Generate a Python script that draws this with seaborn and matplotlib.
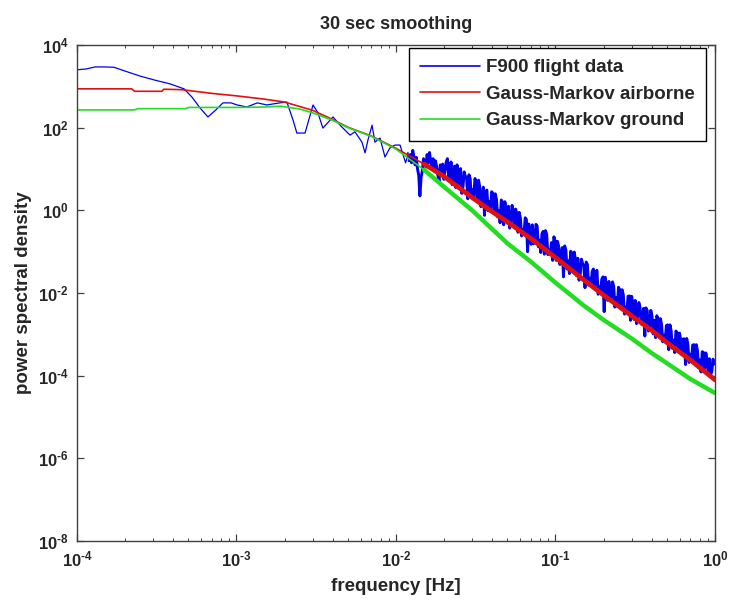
import numpy as np
import pandas as pd
import matplotlib
matplotlib.use("Agg")
import matplotlib.pyplot as plt
import seaborn as sns
from matplotlib.ticker import LogLocator, FixedLocator, NullLocator, FuncFormatter

# ---------------------------------------------------------------------------
# Data (power spectral density given as log10 values)
# ---------------------------------------------------------------------------

# Gauss-Markov model, airborne parameters
airborne_freq = [1e-4, 2.2e-4, 2.3e-4, 3.4e-4, 3.5e-4, 4.5e-4, 5e-4, 7e-4, 1e-3,
                 1.5e-3, 2e-3, 3e-3, 4e-3, 5e-3, 7e-3, 1e-2, 1.5e-2, 2e-2, 3e-2,
                 4e-2, 5e-2, 7e-2, 0.1, 0.15, 0.2, 0.3, 0.4, 0.5, 0.7, 1.0]
airborne_log = [2.94, 2.94, 2.88, 2.88, 2.93, 2.92, 2.90, 2.83, 2.77,
                2.69, 2.62, 2.42, 2.20, 2.01, 1.80, 1.50, 1.12, 0.82, 0.31,
                -0.03, -0.28, -0.68, -1.14, -1.68, -2.05, -2.55, -2.90, -3.20, -3.62, -4.10]

# Gauss-Markov model, ground parameters
ground_freq = [1e-4, 2.3e-4, 2.4e-4, 4.8e-4, 5e-4, 1e-3, 1.5e-3, 1.9e-3, 2.5e-3,
               3e-3, 4e-3, 5e-3, 7e-3, 1e-2, 1.5e-2, 2e-2, 3e-2, 4e-2, 5e-2,
               7e-2, 0.1, 0.15, 0.2, 0.3, 0.4, 0.5, 0.7, 1.0]
ground_log = [2.43, 2.43, 2.46, 2.46, 2.49, 2.49, 2.50, 2.52, 2.45,
              2.36, 2.18, 2.00, 1.79, 1.48, 0.98, 0.57, 0.00, -0.45, -0.80,
              -1.24, -1.75, -2.30, -2.65, -3.10, -3.45, -3.70, -4.08, -4.42]

# F900 flight data, low-frequency part
flight_freq_low = [1.00e-4, 1.14e-4, 1.30e-4, 1.50e-4, 1.71e-4, 2.00e-4, 2.48e-4,
                   3.08e-4, 3.83e-4, 4.69e-4, 5.26e-4, 5.90e-4, 6.62e-4, 7.43e-4,
                   8.22e-4, 9.23e-4, 1.01e-3, 1.16e-3, 1.35e-3, 1.55e-3, 1.87e-3,
                   2.07e-3, 2.26e-3, 2.39e-3, 2.69e-3, 3.02e-3, 3.24e-3, 3.48e-3,
                   4.03e-3, 4.46e-3, 5.15e-3, 5.53e-3, 6.12e-3, 6.40e-3, 6.67e-3,
                   7.08e-3, 7.38e-3, 7.94e-3, 8.53e-3, 9.16e-3, 9.86e-3, 1.06e-2]
flight_log_low = [3.40, 3.42, 3.47, 3.47, 3.46, 3.37, 3.25,
                  3.15, 3.06, 2.94, 2.74, 2.48, 2.26, 2.43,
                  2.60, 2.60, 2.55, 2.50, 2.60, 2.55, 2.60,
                  2.62, 2.19, 1.87, 1.87, 2.55, 2.36, 1.99,
                  2.26, 2.06, 1.82, 1.90, 1.65, 1.39, 1.70,
                  2.06, 1.65, 1.75, 1.29, 1.51, 1.58, 1.58]

# F900 flight data, high-frequency part (log-spaced bins 10^-1.94 .. 10^-0.005 Hz)
flight_log_high = [
    1.15, 1.25, 1.40, 1.20, 1.35, 1.15, 1.45, 1.30, 1.10, 1.28,
    1.00, 0.85, 0.35, 0.80, 0.95, 1.25, 1.15, 1.05, 1.35, 1.15,
    1.40, 1.20, 1.00, 1.25, 0.95, 1.20, 1.05, 0.85, 0.70, 1.10,
    0.95, 1.12, 0.75, 0.98,
    1.17, 1.25, 0.78, 0.71, 1.17, 0.62, 0.76, 1.07, 0.55, 1.10,
    0.91, 0.56, 1.01, 0.41, 0.57, 0.93, 0.81, 0.80, 0.28, 0.86,
    0.77, 0.32, 0.50, 0.32, 0.77, 0.68, 0.23, 0.73, 0.57, 0.09,
    0.27, 0.56, -0.12, 0.46, 0.49, -0.01, 0.21, 0.02, 0.45, 0.41,
    -0.05, 0.40, 0.26, -0.16, 0.00, -0.30, 0.25, 0.20, -0.35, 0.21,
    0.04, -0.31, 0.10, -0.43, -0.30, 0.12, -0.02, -0.42, 0.03, -0.07,
    -0.53, -0.05, -0.19, -0.62, -0.47, -0.56, -0.18, -0.22, -1.00, -0.33,
    -0.53, -0.82, -0.35, -0.81, -0.76, -0.34, -0.38, -0.88, -0.72, -1.02,
    -0.57, -0.51, -1.06, -0.49, -0.59, -1.07, -0.96, -1.07, -0.78, -1.21,
    -0.64, -0.74, -1.21, -0.75, -0.87, -1.31, -1.13, -0.90, -1.61, -0.86,
    -0.96, -1.42, -1.22, -1.53, -0.99, -1.03, -1.47, -1.01, -1.19, -1.58,
    -1.16, -1.69, -1.54, -1.18, -1.29, -1.33, -1.87, -1.25, -1.31, -1.81,
    -1.64, -1.81, -1.48, -1.42, -1.87, -1.50, -1.45, -2.03, -1.85, -2.01,
    -1.67, -1.61, -2.45, -1.62, -1.90, -2.18, -1.72, -2.17, -2.13, -1.73,
    -1.84, -2.34, -2.11, -2.32, -1.86, -1.92, -2.38, -1.92, -2.04, -2.51,
    -2.34, -2.46, -2.08, -2.07, -2.66, -2.08, -2.26, -2.64, -2.18, -2.74,
    -2.59, -2.23, -2.35, -2.75, -2.59, -2.37, -3.04, -2.36, -2.42, -2.92,
    -2.82, -2.42, -2.55, -2.99, -2.66, -3.08, -2.55, -2.62, -3.05, -2.62,
    -2.76, -3.18, -3.02, -3.17, -2.79, -2.77, -3.37, -2.77, -2.91, -3.34,
    -3.14, -3.44, -2.92, -2.96, -3.37, -2.97, -3.13, -3.49, -3.11, -3.11,
    -3.73, -3.10, -3.24, -3.68, -3.48, -3.64, -3.26, -3.25, -3.69, -3.25,
    -3.39, -3.81, -3.62, -3.91, -3.42, -3.44, -3.82, -3.45, -3.61, -3.97,
    -3.59, -3.98, -3.90, -3.60, -3.72,
]
flight_freq_high = np.logspace(-1.94, -0.005, len(flight_log_high))

flight = pd.DataFrame({
    "freq": np.concatenate([flight_freq_low, flight_freq_high]),
    "psd": 10.0 ** np.array(flight_log_low + flight_log_high),
})
airborne = pd.DataFrame({"freq": airborne_freq, "psd": 10.0 ** np.array(airborne_log)})
ground = pd.DataFrame({"freq": ground_freq, "psd": 10.0 ** np.array(ground_log)})

x_tick_exps = [-4, -3, -2, -1, 0]
y_tick_exps = [-8, -6, -4, -2, 0, 2, 4]

# ---------------------------------------------------------------------------
# Style
# ---------------------------------------------------------------------------
sns.set_theme(style="ticks")
plt.rcParams.update({
    "font.family": ["Liberation Sans", "DejaVu Sans"],
    "font.weight": "bold",
    "mathtext.fontset": "custom",
    "mathtext.rm": "Liberation Sans:bold",
    "mathtext.it": "Liberation Sans:bold",
    "mathtext.bf": "Liberation Sans:bold",
    "mathtext.default": "regular",
    "axes.unicode_minus": False,
    "xtick.direction": "in",
    "ytick.direction": "in",
    "xtick.top": True,
    "ytick.right": True,
    "axes.edgecolor": "#404040",
    "axes.linewidth": 1.0,
})

BLUE = "#0000ee"
RED = "#e01010"
GREEN = "#22dd22"

fig = plt.figure(figsize=(7.29, 6.01), dpi=100)
ax = fig.add_axes([0.1056, 0.0998, 0.8752, 0.8253])

# Flight data, then the two model curves drawn over it
sns.lineplot(data=flight, x="freq", y="psd", color=BLUE, lw=0.9, sort=False,
             estimator=None, label="F900 flight data", ax=ax)
# dense part of the flight spectrum renders as a solid band
sns.lineplot(data=flight[flight.freq >= 0.012], x="freq", y="psd", color=BLUE,
             lw=2.1, sort=False, estimator=None, legend=False, ax=ax)
sns.lineplot(data=airborne, x="freq", y="psd", color=RED, lw=1.2, sort=False,
             estimator=None, label="Gauss-Markov airborne", ax=ax)
sns.lineplot(data=ground, x="freq", y="psd", color=GREEN, lw=1.2, sort=False,
             estimator=None, label="Gauss-Markov ground", ax=ax)
# model estimates get broader where the spectrum is dense
sns.lineplot(data=airborne[airborne.freq >= 0.015], x="freq", y="psd", color=RED,
             lw=3.4, sort=False, estimator=None, legend=False, ax=ax)
sns.lineplot(data=ground[ground.freq >= 0.015], x="freq", y="psd", color=GREEN,
             lw=3.2, sort=False, estimator=None, legend=False, ax=ax)

ax.set_xscale("log")
ax.set_yscale("log")
ax.set_xlim(1e-4, 1.0)
ax.set_ylim(1e-8, 1e4)

ax.xaxis.set_major_locator(FixedLocator([10.0 ** e for e in x_tick_exps]))
ax.xaxis.set_minor_locator(LogLocator(base=10, subs=np.arange(2, 10), numticks=20))
ax.yaxis.set_major_locator(FixedLocator([10.0 ** e for e in y_tick_exps]))
ax.yaxis.set_minor_locator(NullLocator())


def pow_label(v, _pos):
    e = int(round(np.log10(v)))
    if e < 0:
        return r"$10^{\text{-}%d}$" % (-e)
    return r"$10^{%d}$" % e


pow_fmt = FuncFormatter(pow_label)
ax.xaxis.set_major_formatter(pow_fmt)
ax.yaxis.set_major_formatter(pow_fmt)

ax.tick_params(which="major", length=5, width=0.9, color="#404040", labelsize=12)
ax.tick_params(axis="x", which="major", pad=6)
ax.tick_params(axis="y", which="major", pad=6)
ax.tick_params(which="minor", length=2.5, width=0.7, color="#404040")

ax.set_xlabel("frequency [Hz]", fontsize=13.5, fontweight="bold", labelpad=6)
ax.set_ylabel("power spectral density", fontsize=13.5, fontweight="bold", labelpad=4)
ax.set_title("30 sec smoothing", fontsize=13, fontweight="bold", pad=11.5)

leg = ax.legend(loc="upper right", bbox_to_anchor=(0.986, 0.994), frameon=True,
                fancybox=False, edgecolor="black", framealpha=1, fontsize=13.5,
                handlelength=3.2, handletextpad=0.3, labelspacing=0.5,
                borderpad=0.6, borderaxespad=0)
leg.get_frame().set_linewidth(1.0)
for line in leg.get_lines():
    line.set_linewidth(1.2)

fig.savefig("out.png", dpi=100)
